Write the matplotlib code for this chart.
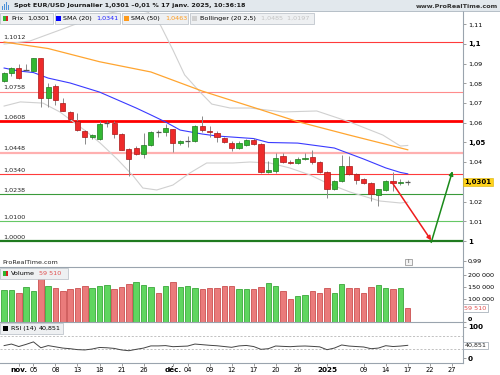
import matplotlib
matplotlib.use("Agg")
import matplotlib.pyplot as plt
from matplotlib.patches import Rectangle

plt.rcParams['font.family'] = ['DejaVu Sans']

# ---------------- data ----------------
opens = [1.0812, 1.0851, 1.0877, 1.0868, 1.0865, 1.0927, 1.0724, 1.0788, 1.0702, 1.0656,
         1.0609, 1.0558, 1.0528, 1.0518, 1.0598, 1.0598, 1.0542, 1.0466, 1.0474, 1.0440,
         1.0487, 1.0555, 1.0555, 1.0567, 1.0496, 1.0508, 1.0508, 1.0584, 1.0557, 1.0550,
         1.0521, 1.0499, 1.0472, 1.0487, 1.0513, 1.0491, 1.0349, 1.0357, 1.0431, 1.0403,
         1.0398, 1.0414, 1.0428, 1.0400, 1.0349, 1.0262, 1.0304, 1.0381, 1.0339, 1.0313,
         1.0293, 1.0234, 1.0259, 1.0306, 1.0293, 1.0301]
highs = [1.0858, 1.0883, 1.0897, 1.0897, 1.0930, 1.0930, 1.0800, 1.0795, 1.0724, 1.0660,
         1.0650, 1.0562, 1.0545, 1.0608, 1.0610, 1.0610, 1.0548, 1.0470, 1.0480, 1.0547,
         1.0560, 1.0562, 1.0594, 1.0570, 1.0512, 1.0532, 1.0590, 1.0634, 1.0585, 1.0557,
         1.0527, 1.0510, 1.0506, 1.0520, 1.0525, 1.0495, 1.0405, 1.0446, 1.0446, 1.0410,
         1.0425, 1.0446, 1.0460, 1.0405, 1.0355, 1.0310, 1.0436, 1.0430, 1.0345, 1.0318,
         1.0300, 1.0265, 1.0312, 1.0352, 1.0313, 1.0310]
lows = [1.0806, 1.0839, 1.0822, 1.0866, 1.0863, 1.0679, 1.0680, 1.0690, 1.0658, 1.0610,
        1.0558, 1.0492, 1.0520, 1.0515, 1.0580, 1.0525, 1.0460, 1.0332, 1.0437, 1.0420,
        1.0480, 1.0530, 1.0535, 1.0453, 1.0485, 1.0475, 1.0505, 1.0555, 1.0530, 1.0500,
        1.0498, 1.0457, 1.0465, 1.0480, 1.0486, 1.0343, 1.0343, 1.0344, 1.0397, 1.0389,
        1.0393, 1.0410, 1.0393, 1.0344, 1.0220, 1.0258, 1.0300, 1.0335, 1.0290, 1.0289,
        1.0205, 1.0177, 1.0252, 1.0254, 1.0283, 1.0285]
closes = [1.0851, 1.0876, 1.0826, 1.0868, 1.0927, 1.0724, 1.0783, 1.0716, 1.0661, 1.0619,
          1.0562, 1.0529, 1.0538, 1.0592, 1.0598, 1.0542, 1.0462, 1.0414, 1.0441, 1.0487,
          1.0555, 1.0555, 1.0572, 1.0496, 1.0508, 1.0508, 1.0584, 1.0563, 1.0552, 1.0530,
          1.0504, 1.0471, 1.0499, 1.0513, 1.0492, 1.0349, 1.0360, 1.0423, 1.0400, 1.0395,
          1.0415, 1.0422, 1.0400, 1.0349, 1.0264, 1.0306, 1.0381, 1.0339, 1.0310, 1.0293,
          1.0239, 1.0264, 1.0306, 1.0293, 1.0301, 1.0301]

volumes = [136000, 136000, 122000, 148000, 133000, 186000, 153000, 143000, 133000, 140000,
           145000, 154000, 145000, 153000, 157000, 142000, 149000, 162000, 169000, 157000,
           148000, 122000, 154000, 169000, 148000, 152000, 143000, 140000, 146000, 143000,
           154000, 154000, 139000, 140000, 139000, 148000, 165000, 154000, 133000, 98000,
           111000, 114000, 131000, 122000, 143000, 122000, 162000, 143000, 143000, 122000,
           148000, 157000, 146000, 139000, 146000, 59510]
volume_up = [1, 1, 0, 1, 1, 0, 1, 0, 0, 0, 0, 0, 1, 1, 1, 0, 0, 0, 1, 1,
             1, 0, 1, 0, 1, 1, 1, 0, 0, 0, 0, 0, 1, 1, 0, 0, 1, 1, 0, 0,
             1, 1, 0, 0, 0, 1, 1, 0, 0, 0, 0, 1, 1, 0, 1, 0]

rsi = [40, 45, 37, 44, 52, 33, 40, 36, 32, 30, 27, 26, 29, 34, 33, 31, 26, 23.5, 28, 32,
       39, 39, 40, 36.5, 37.5, 38.5, 45, 43, 41, 39.5, 37, 34.5, 39, 40.5, 37, 28, 30, 38.7,
       37.5, 36.5, 38, 38.7, 37.5, 36, 26.8, 32, 42, 38.5, 37, 35.5, 30, 32, 39.7, 37, 38.5, 40.851]

sma20_idx = [1, 3, 5, 7, 10, 14, 19, 21, 23, 25, 28, 30, 35, 37, 41, 46, 50, 53, 55, 56]
sma20_val = [1.0878, 1.0863, 1.0855, 1.0827, 1.0802, 1.0756, 1.0675, 1.0640, 1.0604, 1.0563,
             1.0543, 1.0533, 1.0520, 1.0500, 1.0497, 1.0472, 1.0416, 1.0371, 1.0348, 1.0341]
sma50_idx = [1, 7, 14, 21, 28, 35, 41, 48, 56]
sma50_val = [1.1010, 1.0977, 1.0910, 1.0858, 1.0761, 1.0678, 1.0606, 1.0538, 1.0463]
boll_up_idx = [1, 4.5, 8.6, 14.1, 18.2, 20.6, 22.3, 24.0, 25.6, 27.7, 29.3, 31.8, 34.5, 39.0,
               43.6, 48.1, 52.6, 55.0, 56.0]
boll_up_val = [1.1000, 1.1015, 1.1071, 1.1147, 1.1178, 1.1162, 1.1096, 1.0970, 1.0843, 1.0756,
               1.0695, 1.0675, 1.0675, 1.0655, 1.0660, 1.0604, 1.0538, 1.0482, 1.0485]
boll_lo_idx = [1, 3.2, 6.3, 8.6, 12.3, 14.1, 16.4, 18.6, 19.9, 21.8, 24.0, 26.3, 28.6, 32.2,
               34.5, 37.2, 39.9, 42.7, 45.0, 48.1, 52.2, 55.0, 56.0]
boll_lo_val = [1.0685, 1.0706, 1.0700, 1.0655, 1.0553, 1.0497, 1.0416, 1.0330, 1.0269, 1.0259,
               1.0284, 1.0345, 1.0396, 1.0396, 1.0401, 1.0396, 1.0371, 1.0335, 1.0294, 1.0249,
               1.0203, 1.0193, 1.0197]

levels = [1.1012, 1.0758, 1.0608, 1.0448, 1.0340, 1.0238, 1.0100, 1.0000]
level_labels = ['1,1012', '1,0758', '1,0608', '1,0448', '1,0340', '1,0238', '1,0100', '1,0000']
level_colors = ['#ff3b3b', '#ff8c8c', '#ff0000', '#ffb0b0', '#ff3b3b', '#3a9a3a', '#66c866', '#1f7a1f']
level_widths = [0.8, 0.8, 2.0, 1.6, 0.8, 0.8, 0.8, 1.6]

red_arrow = [(53.8, 1.0301), (59.2, 1.0003)]
green_arrow = [(59.2, 0.9993), (62.1, 1.0355)]

# the 1,03 label is hidden behind the last-price box in the reference
price_ticks = [0.99, 1.00, 1.01, 1.02, 1.04, 1.05, 1.06, 1.07, 1.08, 1.09, 1.10, 1.11]
price_tick_labels = ['0,99', '1', '1,01', '1,02', '1,04', '1,05', '1,06', '1,07',
                     '1,08', '1,09', '1,1', '1,11']
bold_price_labels = ['1', '1,05', '1,1']
vol_ticks = [0, 100000, 150000, 200000]
vol_tick_labels = ['0', '100 000', '150 000', '200 000']
x_ticks = [3, 5, 8, 11, 14, 17, 20, 24, 26, 29, 32, 35, 38, 41, 45, 50, 53, 56, 59, 62]
x_tick_labels = ['nov.', '05', '08', '13', '18', '21', '26', 'déc.', '04', '09', '12', '17',
                 '20', '26', '2025', '09', '14', '17', '22', '27']
bold_x_labels = ['nov.', 'déc.', '2025']

# ---------------- layout ----------------
W, H = 500, 375
fig = plt.figure(figsize=(5, 3.75), dpi=100)
fig.patch.set_facecolor('white')

def box(x0, y0, x1, y1):
    return [x0 / W, 1 - y1 / H, (x1 - x0) / W, (y1 - y0) / H]

def fx(x):
    return x / W

def fy(y):
    return 1 - y / H

def frect(x0, y0, x1, y1, **kw):
    fig.add_artist(Rectangle((fx(x0), fy(y1)), (x1 - x0) / W, (y1 - y0) / H,
                             transform=fig.transFigure, **kw))

XL = (0.44, 63.53)
GRAY = '#9aa4ae'
FS = 4.6

ax = fig.add_axes(box(0, 11, 463, 266))
axv = fig.add_axes(box(0, 267, 463, 322))
axr = fig.add_axes(box(0, 322, 463, 363))

for a in (ax, axv, axr):
    a.set_xlim(*XL)
    a.set_facecolor('white')
    a.spines['left'].set_visible(False)
    for s in ('top', 'bottom', 'right'):
        a.spines[s].set_color(GRAY)
        a.spines[s].set_linewidth(0.8)
    a.yaxis.tick_right()
    a.tick_params(axis='y', direction='out', length=2, width=0.5, colors='#777777',
                  labelcolor='black', labelsize=FS, pad=1.5)
ax.spines['top'].set_visible(False)
ax.spines['bottom'].set_visible(False)
axv.spines['bottom'].set_visible(False)
ax.set_xticks([])
axv.set_xticks([])

# ---------------- main price panel ----------------
ax.set_ylim(0.98731, 1.11675)
ax.set_yticks(price_ticks)
ax.set_yticklabels(price_tick_labels)
for t in ax.get_yticklabels():
    if t.get_text() in bold_price_labels:
        t.set_fontweight('bold')
        t.set_fontsize(FS + 0.4)

for lv, lab, col, lw in zip(levels, level_labels, level_colors, level_widths):
    ax.axhline(lv, color=col, lw=lw, zorder=2)
    ax.annotate(lab, xy=(0.008, lv), xycoords=ax.get_yaxis_transform(),
                xytext=(0, 1.2), textcoords='offset points', fontsize=FS,
                va='bottom', ha='left', color='#222222', zorder=6)

ax.plot(boll_up_idx, boll_up_val, color='#d0d0d0', lw=0.8, zorder=2.5)
ax.plot(boll_lo_idx, boll_lo_val, color='#d0d0d0', lw=0.8, zorder=2.5)
ax.plot(sma50_idx, sma50_val, color='#ffa530', lw=0.9, zorder=2.6)
ax.plot(sma20_idx, sma20_val, color='#3a3aff', lw=0.8, zorder=2.7)

for i, (o, h, l, c) in enumerate(zip(opens, highs, lows, closes), start=1):
    ax.vlines(i, l, h, color='#8a8a8a', lw=0.7, zorder=3)
    if abs(c - o) < 1e-9:
        ax.hlines(c, i - 0.36, i + 0.36, color='#555555', lw=0.9, zorder=4)
    else:
        up = c > o
        ax.add_patch(Rectangle((i - 0.35, min(o, c)), 0.70, abs(c - o),
                               facecolor='#33b833' if up else '#ee2a2a',
                               edgecolor='#1d7a1d' if up else '#a81818',
                               lw=0.5, zorder=4))

ax.annotate('', xy=red_arrow[1], xytext=red_arrow[0],
            arrowprops=dict(arrowstyle='-|>', color='#ee1c1c', lw=1.1,
                            mutation_scale=6, shrinkA=0, shrinkB=0), zorder=5)
ax.annotate('', xy=green_arrow[1], xytext=green_arrow[0],
            arrowprops=dict(arrowstyle='-|>', color='#1a8a1a', lw=1.1,
                            mutation_scale=6, shrinkA=0, shrinkB=0), zorder=5)

ax.text(1.003, closes[-1], '1,0301', transform=ax.get_yaxis_transform(),
        fontsize=FS + 0.4, fontweight='bold', va='center', ha='left', zorder=10,
        clip_on=False,
        bbox=dict(boxstyle='square,pad=0.15', facecolor='#ffd21a', edgecolor='#d8b000', lw=0.4))

# ---------------- volume panel ----------------
axv.set_ylim(0, 234043)
vcol = ['#5fd65f' if u else '#ea7b7b' for u in volume_up]
vedge = ['#239a23' if u else '#c23a3a' for u in volume_up]
axv.bar(range(1, len(volumes) + 1), volumes, width=0.74, color=vcol, edgecolor=vedge,
        linewidth=0.5, zorder=3)
axv.set_yticks(vol_ticks)
axv.set_yticklabels(vol_tick_labels)
for t in axv.get_yticklabels():
    if t.get_text() == '0':
        t.set_fontweight('bold')
        t.set_va('bottom')
axv.text(1.003, volumes[-1], '59 510', transform=axv.get_yaxis_transform(),
         fontsize=FS, color='#e05050', va='center', ha='left', zorder=10, clip_on=False,
         bbox=dict(boxstyle='square,pad=0.2', facecolor='white', edgecolor='#9aa4ae', lw=0.5))

# ---------------- RSI panel ----------------
axr.set_ylim(-16.1, 116.1)
axr.axhline(70, color='#b8b8b8', lw=0.6, ls=(0, (2.5, 2)), zorder=1)
axr.axhline(30, color='#b8b8b8', lw=0.6, ls=(0, (2.5, 2)), zorder=1)
axr.plot(range(1, len(rsi) + 1), rsi, color='#444444', lw=0.7, zorder=3)
axr.set_yticks([0, 100])
axr.set_yticklabels(['0', '100'])
for t in axr.get_yticklabels():
    t.set_fontweight('bold')
    t.set_fontsize(FS + 0.6)
axr.text(1.003, rsi[-1], '40,851', transform=axr.get_yaxis_transform(),
         fontsize=FS, color='#222222', va='center', ha='left', zorder=10, clip_on=False,
         bbox=dict(boxstyle='square,pad=0.2', facecolor='white', edgecolor='#9aa4ae', lw=0.5))
axr.set_xticks(x_ticks)
axr.set_xticklabels(x_tick_labels)
axr.tick_params(axis='x', direction='out', length=2, width=0.5, colors='#777777',
                labelcolor='black', labelsize=FS + 0.2, pad=1)
for t in axr.get_xticklabels():
    if t.get_text() in bold_x_labels:
        t.set_fontweight('bold')
        t.set_fontsize(FS + 0.6)

# ---------------- header & legends ----------------
frect(0, 0, 500, 11, facecolor='#e2e8ed', edgecolor='none')
fig.add_artist(plt.Line2D([0, 1], [fy(11), fy(11)], transform=fig.transFigure,
                          color='#a9b4be', lw=0.6))
for k, hh in enumerate([3, 5, 7, 4]):
    frect(2 + k * 2, 10 - hh - 1, 3.3 + k * 2, 9.5, facecolor='#4a90d9', edgecolor='none')
fig.text(fx(14), fy(6), 'Spot EUR/USD Journalier 1,0301 \u20130,01 % 17 janv. 2025, 10:36:18',
         fontsize=FS, fontweight='bold', va='center', ha='left', color='#1a1a1a')
fig.text(fx(498), fy(6), 'www.ProRealTime.com', fontsize=FS, fontweight='bold',
         va='center', ha='right', color='#333333')

def legend_box(x0, x1, y0, y1):
    frect(x0, y0, x1, y1, facecolor='#eef0f2', edgecolor='#b4bcc4', lw=0.5)

def swatch(x0, y0, col1, col2=None):
    if col2 is None:
        frect(x0, y0, x0 + 5, y0 + 5, facecolor=col1, edgecolor='none')
    else:
        frect(x0, y0, x0 + 2.5, y0 + 5, facecolor=col1, edgecolor='none')
        frect(x0 + 2.5, y0, x0 + 5, y0 + 5, facecolor=col2, edgecolor='none')

LY0, LY1 = 12.5, 24
legend_box(0, 53, LY0, LY1)
swatch(3, 15.5, '#2fb52f', '#d62020')
fig.text(fx(11), fy(18.5), 'Prix', fontsize=FS, va='center', ha='left')
fig.text(fx(27), fy(18.5), '1,0301', fontsize=FS, va='center', ha='left')
legend_box(54.5, 120, LY0, LY1)
swatch(56, 15.5, '#0000ff')
fig.text(fx(63), fy(18.5), 'SMA (20)', fontsize=FS, va='center', ha='left')
fig.text(fx(96), fy(18.5), '1,0341', fontsize=FS, va='center', ha='left', color='#2020ff')
legend_box(121.5, 188, LY0, LY1)
swatch(124, 15.5, '#ff9a1a')
fig.text(fx(131), fy(18.5), 'SMA (50)', fontsize=FS, va='center', ha='left')
fig.text(fx(165), fy(18.5), '1,0463', fontsize=FS, va='center', ha='left', color='#ff9a1a')
legend_box(189.5, 314, LY0, LY1)
swatch(192, 15.5, '#d0d0d0')
fig.text(fx(200), fy(18.5), 'Bollinger (20 2,5)', fontsize=FS, va='center', ha='left')
fig.text(fx(261), fy(18.5), '1,0485  1,0197', fontsize=FS, va='center', ha='left', color='#c4c4c4')

fig.text(fx(2), fy(262.5), 'ProRealTime.com', fontsize=FS, va='center', ha='left', color='#222222')
frect(405, 258.5, 412, 265, facecolor='#f4f4f4', edgecolor='#8a8a8a', lw=0.5)
fig.text(fx(408.5), fy(261.8), 'i', fontsize=FS - 0.4, va='center', ha='center', color='#555555')

legend_box(0, 68, 267.5, 279)
swatch(3, 270.5, '#2fb52f', '#d62020')
fig.text(fx(11), fy(273.3), 'Volume', fontsize=FS, va='center', ha='left')
fig.text(fx(39), fy(273.3), '59 510', fontsize=FS, va='center', ha='left', color='#e05050')

legend_box(0, 63, 323, 334)
swatch(3, 326, '#000000')
fig.text(fx(11), fy(328.5), 'RSI (14)', fontsize=FS, va='center', ha='left')
fig.text(fx(39), fy(328.5), '40,851', fontsize=FS, va='center', ha='left')

fig.savefig('out.png', dpi=100)
